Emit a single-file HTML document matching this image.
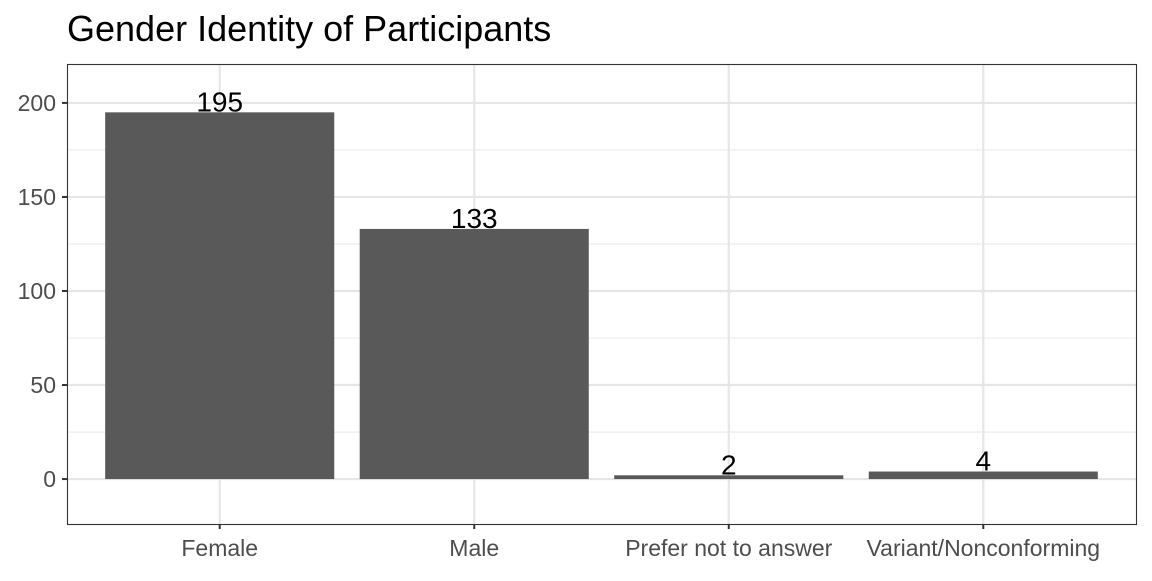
<!DOCTYPE html>
<html><head><meta charset="utf-8"><style>
html,body{margin:0;padding:0;background:#fff;}
svg text{font-family:"Liberation Sans",Arial,sans-serif;}
</style></head><body>
<svg id="chart" width="1152" height="576" xmlns="http://www.w3.org/2000/svg">
<rect width="1152" height="576" fill="#fff"/>
<text x="67" y="41" font-size="36" fill="#000">Gender Identity of Participants</text>
<g id="grid"></g>
<g id="bars"></g>
<g id="labels"></g>
<rect x="67.5" y="64.5" width="1069" height="460" fill="none" stroke="#333" stroke-width="1.1"/>
<g id="axes"></g>
</svg>
<script>
const categories = ["Female","Male","Prefer not to answer","Variant/Nonconforming"];
const counts = [195,133,2,4];
const yTicks = [0,50,100,150,200];
const yMinor = [25,75,125,175];

const NS="http://www.w3.org/2000/svg";
const px0=67, px1=1136, py0=64, py1=524;
const yMin=-23.9, yMax=220.7;
function y(v){return py1-(v-yMin)/(yMax-yMin)*(py1-py0);}
const xLo=0.4, xHi=categories.length+0.6;
function x(i){return px0+(i+1-xLo)/(xHi-xLo)*(px1-px0);}
const step=(px1-px0)/(xHi-xLo);
function mk(tag,attrs,parent){const e=document.createElementNS(NS,tag);for(const k in attrs)e.setAttribute(k,attrs[k]);parent.appendChild(e);return e;}
const grid=document.getElementById('grid'), bars=document.getElementById('bars'), labels=document.getElementById('labels'), axes=document.getElementById('axes');

yMinor.forEach(v=>{const l=mk('line',{x1:px0,x2:px1,y1:y(v),y2:y(v),stroke:'#EBEBEB','stroke-width':1.1},grid);

});
yTicks.forEach(v=>{const l=mk('line',{x1:px0,x2:px1,y1:y(v),y2:y(v),stroke:'#E6E6E6','stroke-width':2.2},grid);


const t=mk('line',{x1:px0-5,x2:px0,y1:y(v),y2:y(v),stroke:'#333','stroke-width':2},axes);


const tx=mk('text',{x:px0-11,y:y(v)+8,'text-anchor':'end','font-size':23,fill:'#4D4D4D'},axes);
tx.textContent=v;

});
categories.forEach((c,i)=>{const cx=x(i);
const g=mk('line',{x1:cx,x2:cx,y1:py0,y2:py1,stroke:'#E6E6E6','stroke-width':2.2},grid);


const w=step*0.9;
const b=mk('rect',{x:cx-w/2,y:y(counts[i]),width:w,height:y(0)-y(counts[i]),fill:'#595959'},bars);


const lb=mk('text',{x:cx,y:y(counts[i])-1,'text-anchor':'middle','font-size':28,fill:'#000'},labels);
lb.textContent=counts[i];


const t=mk('line',{x1:cx,x2:cx,y1:py1,y2:py1+5,stroke:'#333','stroke-width':2},axes);


const tx=mk('text',{x:cx,y:py1+32,'text-anchor':'middle','font-size':23,fill:'#4D4D4D'},axes);
tx.textContent=c;

});
</script>
</body></html>
